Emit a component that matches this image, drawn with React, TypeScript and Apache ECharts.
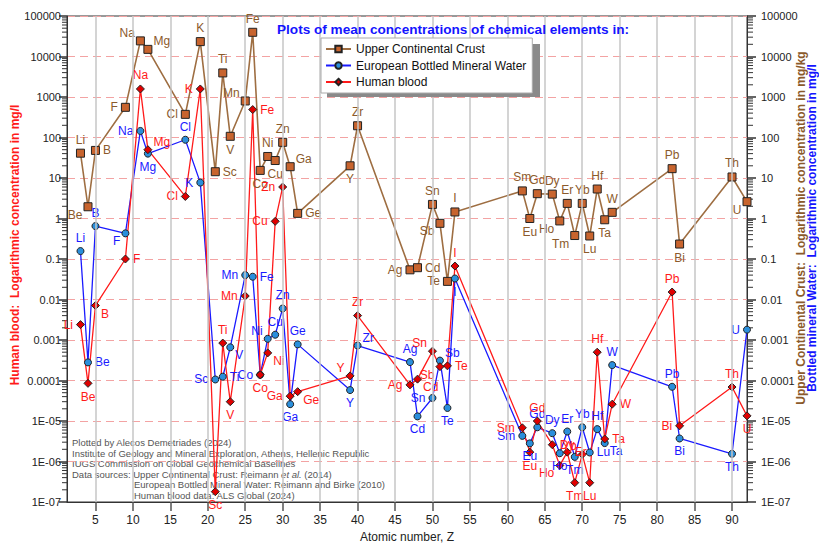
import { useEffect, useRef } from 'react';
import * as echarts from 'echarts';

const FONT = '"Liberation Sans", Arial, Helvetica, sans-serif';

// Atomic numbers (x positions)
const ATOMIC_NUMBER: Record<string, number> = {
  Li: 3, Be: 4, B: 5, F: 9, Na: 11, Mg: 12, Cl: 17, K: 19, Sc: 21, Ti: 22, V: 23, Mn: 25, Fe: 26,
  Co: 27, Ni: 28, Cu: 29, Zn: 30, Ga: 31, Ge: 32, Y: 39, Zr: 40, Ag: 47, Cd: 48, Sn: 50, Sb: 51,
  Te: 52, I: 53, Sm: 62, Eu: 63, Gd: 64, Dy: 66, Ho: 67, Er: 68, Tm: 69, Yb: 70, Lu: 71, Hf: 72,
  Ta: 73, W: 74, Pb: 82, Bi: 83, Th: 90, U: 92,
};

const elements = ['Li', 'Be', 'B', 'F', 'Na', 'Mg', 'Cl', 'K', 'Sc', 'Ti', 'V', 'Mn', 'Fe', 'Co', 'Ni', 'Cu', 'Zn', 'Ga', 'Ge', 'Y', 'Zr', 'Ag', 'Cd', 'Sn', 'Sb', 'Te', 'I', 'Sm', 'Eu', 'Gd', 'Dy', 'Ho', 'Er', 'Tm', 'Yb', 'Lu', 'Hf', 'Ta', 'W', 'Pb', 'Bi', 'Th', 'U'];

// Upper Continental Crust, mg/kg
const uccValues = [41, 1.95, 48, 556, 24300, 15000, 373, 23300, 14.3, 3930, 107, 798, 39600, 15.4, 34, 27, 76, 19, 1.34, 20, 195, 0.054, 0.061, 2.23, 0.76, 0.028, 1.45, 4.8, 1.0, 4.1, 4.0, 0.87, 2.36, 0.38, 2.36, 0.37, 5.35, 0.93, 1.42, 17, 0.234, 10.6, 2.6];

// European Bottled Mineral Water, mg/l
const waterValues = [0.157, 0.00028, 0.65, 0.43, 145, 40, 88, 7.7, 0.000106, 0.000124, 0.00066, 0.04, 0.0365, 0.000138, 0.00107, 0.00135, 0.006, 0.000026, 0.00078, 0.000058, 0.00073, 0.000285, 0.000013, 0.000037, 0.00031, 0.000021, 0.033, 0.0000043, 0.0000028, 0.000007, 0.000005, 0.0000016, 0.0000055, 0.0000013, 0.000007, 0.00000167, 0.0000063, 0.00000285, 0.00024, 0.00007, 0.0000037, 0.00000155, 0.0018];

// Human blood, mg/l
const bloodValues = [0.0024, 0.000085, 0.0071, 0.1, 1580, 50, 3.5, 1580, 0.00000018, 0.00084, 0.00003, 0.0122, 490, 0.000138, 0.00048, 0.85, 6.0, 0.000041, 0.000053, 0.00013, 0.004, 0.000078, 0.000108, 0.00053, 0.00022, 0.00023, 0.067, 0.0000068, 0.0000017, 0.00001, 0.0000026, 0.0000008, 0.0000017, 0.0000003, 0.0000015, 0.0000003, 0.0005, 0.0000036, 0.000026, 0.0153, 0.0000076, 0.000069, 0.0000134];

const xTicks = [5, 10, 15, 20, 25, 30, 35, 40, 45, 50, 55, 60, 65, 70, 75, 80, 85, 90];
const yExponents = [-7, -6, -5, -4, -3, -2, -1, 0, 1, 2, 3, 4, 5];

const X_MIN = 1.2;
const X_MAX = 92;

// label placement per element (style)
const uccLabelPos: Record<string, string> = {
  Li: 't', Be: 'bl', B: 'r', F: 'l', Na: 'tl', Mg: 'tr', Cl: 'l', K: 't', Sc: 'r', Ti: 't', V: 'b', Mn: 'tl', Fe: 't',
  Co: 'b', Ni: 't', Cu: 'b', Zn: 't', Ga: 'tr', Ge: 'r', Y: 'b', Zr: 't', Ag: 'l', Cd: 'r', Sn: 't', Sb: 'bl',
  Te: 'l', I: 't', Sm: 't', Eu: 'b', Gd: 't', Dy: 't', Ho: 'bl', Er: 't', Tm: 'bl', Yb: 't', Lu: 'b', Hf: 't',
  Ta: 'b', W: 't', Pb: 't', Bi: 'b', Th: 't', U: 'bl',
};
const waterLabelPos: Record<string, string> = {
  Li: 't', Be: 'r', B: 't', F: 'bl', Na: 'l', Mg: 'b', Cl: 't', K: 'l', Sc: 'l', Ti: 'r', V: 'br', Mn: 'l', Fe: 'r',
  Co: 'l', Ni: 'tl', Cu: 't', Zn: 't', Ga: 'b', Ge: 't', Y: 'b', Zr: 'tr', Ag: 't', Cd: 'b', Sn: 'l', Sb: 'tr',
  Te: 'b', I: 'b', Sm: 'l', Eu: 'b', Gd: 't', Dy: 't', Ho: 'b', Er: 't', Tm: 'b', Yb: 't', Lu: 'r', Hf: 't',
  Ta: 'br', W: 't', Pb: 't', Bi: 'b', Th: 'b', U: 'l',
};
const bloodLabelPos: Record<string, string> = {
  Li: 'l', Be: 'b', B: 'br', F: 'r', Na: 't', Mg: 'tr', Cl: 'l', K: 'l', Sc: 'b', Ti: 't', V: 'b', Mn: 'l', Fe: 'r',
  Co: 'b', Ni: 'br', Cu: 'l', Zn: 'l', Ga: 'l', Ge: 'br', Y: 'tl', Zr: 't', Ag: 'l', Cd: 'br', Sn: 'tl', Sb: 'bl',
  Te: 'r', I: 't', Sm: 'l', Eu: 'b', Gd: 't', Dy: 'r', Ho: 'bl', Er: 'r', Tm: 'b', Yb: 'tl', Lu: 'b', Hf: 't',
  Ta: 'r', W: 'r', Pb: 't', Bi: 'l', Th: 't', U: 'b',
};

const LABEL_POS: Record<string, any> = {
  t: { position: 'top', distance: 3 },
  b: { position: 'bottom', distance: 3 },
  l: { position: 'left', distance: 3 },
  r: { position: 'right', distance: 3 },
  tl: { position: 'left', distance: 1, offset: [0, -8] },
  tr: { position: 'right', distance: 1, offset: [0, -8] },
  bl: { position: 'left', distance: 1, offset: [0, 8] },
  br: { position: 'right', distance: 1, offset: [0, 8] },
};

function buildData(values: number[], pos: Record<string, string>) {
  return elements.map((el, i) => ({
    name: el,
    value: [ATOMIC_NUMBER[el], Math.log10(values[i])],
    label: LABEL_POS[pos[el]] || LABEL_POS.t,
  }));
}

function fmtExp(e: number): string {
  const k = Math.round(e);
  if (k >= 0) return String(Math.pow(10, k));
  if (k >= -4) return '0.' + '0'.repeat(-k - 1) + '1';
  return '1E-' + String(-k).padStart(2, '0');
}

export default function App() {
  const ref = useRef<HTMLDivElement>(null);

  useEffect(() => {
    document.body.style.margin = '0';
    if (!ref.current) return;
    const chart = echarts.init(ref.current, null, { renderer: 'svg' });

    const minorTicks: number[] = [];
    for (let e = -7; e < 5; e++) for (let m = 2; m <= 9; m++) minorTicks.push(e + Math.log10(m));

    const yAxisBase = (side: 'left' | 'right') => ({
      type: 'value',
      position: side,
      min: -7,
      max: 5,
      interval: 1,
      axisLine: { show: true, lineStyle: { color: '#333', width: 1 } },
      axisTick: { show: true, length: side === 'left' ? 8 : 9, lineStyle: { color: '#333', width: 1.5 } },
      axisLabel: {
        formatter: (v: number) => fmtExp(v),
        fontSize: 11,
        color: '#222',
        fontFamily: FONT,
        margin: side === 'left' ? 6 : 14,
        customValues: yExponents,
      },
      splitLine: side === 'left'
        ? { show: true, lineStyle: { type: [8, 5], color: '#f3a3a3', width: 1 } }
        : { show: false },
    });

    const option: any = {
      animation: false,
      textStyle: { fontFamily: FONT },
      grid: { left: 67, right: 72, top: 16, bottom: 41, show: true, borderColor: '#333', borderWidth: 1, outerBoundsMode: 'none', containLabel: false },
      title: {
        text: 'Plots of mean concentrations of chemical elements in:',
        left: 277,
        top: 22,
        padding: 0,
        textStyle: { color: '#1414ff', fontSize: 13.6, fontWeight: 'bold', fontFamily: FONT },
      },
      legend: {
        data: ['Upper Continental Crust', 'European Bottled Mineral Water', 'Human blood'],
        orient: 'vertical',
        left: 321,
        top: 38,
        padding: [4, 6, 4, 4],
        itemGap: 2.5,
        itemWidth: 25,
        itemHeight: 8,
        backgroundColor: '#fff',
        borderColor: '#aaa',
        borderWidth: 1,
        borderRadius: 0,
        textStyle: { fontSize: 12, color: '#111', fontFamily: FONT, lineHeight: 14 },
        z: 10,
      },
      xAxis: {
        type: 'value',
        min: X_MIN,
        max: X_MAX,
        name: 'Atomic number, Z',
        nameLocation: 'middle',
        nameGap: 24,
        nameTextStyle: { fontSize: 12, color: '#222', fontFamily: FONT },
        axisLine: { show: true, onZero: false, lineStyle: { color: '#333' } },
        axisTick: { show: true, length: 9, customValues: xTicks, lineStyle: { color: '#555', width: 1.5 } },
        axisLabel: { customValues: xTicks, fontSize: 12, color: '#222', margin: 12, fontFamily: FONT },
        splitLine: { show: false },
      },
      yAxis: [yAxisBase('left'), yAxisBase('right')],
      graphic: [
        { type: 'rect', z: 9, shape: { x: 327, y: 44, width: 213, height: 53 }, style: { fill: '#8a8a8a' } },
        {
          type: 'text', x: 15, y: 245, rotation: Math.PI / 2,
          style: { text: 'Human blood:  Logarithmic concentration in mg/l', fill: '#ff1a1a', font: `bold 12px ${FONT}`, align: 'center', verticalAlign: 'middle' },
        },
        {
          type: 'text', x: 801, y: 228, rotation: Math.PI / 2,
          style: { text: 'Upper Continental Crust:  Logarithmic concentration in mg/kg', fill: '#8b5a2b', font: `bold 12px ${FONT}`, align: 'center', verticalAlign: 'middle' },
        },
        {
          type: 'text', x: 812, y: 228, rotation: Math.PI / 2,
          style: { text: 'Bottled mineral Water:  Logarithmic concentration in mg/l', fill: '#1414ff', font: `bold 12px ${FONT}`, align: 'center', verticalAlign: 'middle' },
        },
        { type: 'text', x: 72, y: 442, style: { text: 'Plotted by Alecos Demetriades (2024)', fill: '#555', font: `9.5px ${FONT}`, verticalAlign: 'middle' } },
        { type: 'text', x: 72, y: 453, style: { text: 'Institute of Geology and Mineral Exploration, Athens, Hellenic Republic', fill: '#555', font: `9.5px ${FONT}`, verticalAlign: 'middle' } },
        { type: 'text', x: 72, y: 463.5, style: { text: 'IUGS Commission on Global Geochemical Baselines', fill: '#555', font: `9.5px ${FONT}`, verticalAlign: 'middle' } },
        {
          type: 'text', x: 72, y: 474,
          style: {
            text: 'Data sources: Upper Continental Crust: Reimann {i|et al.} (2014)',
            fill: '#555', font: `9.5px ${FONT}`, verticalAlign: 'middle',
            rich: { i: { fontStyle: 'italic', fontSize: 9.5, fill: '#555', fontFamily: FONT } },
          },
        },
        { type: 'text', x: 134, y: 484.5, style: { text: 'European Bottled Mineral Water: Reimann and Birke (2010)', fill: '#555', font: `9.5px ${FONT}`, verticalAlign: 'middle' } },
        { type: 'text', x: 134, y: 495, style: { text: 'Human blood data: ALS Global (2024)', fill: '#555', font: `9.5px ${FONT}`, verticalAlign: 'middle' } },
      ],
      series: [
        {
          name: 'vgrid',
          type: 'line',
          data: [],
          z: 1,
          silent: true,
          markLine: {
            silent: true,
            symbol: ['none', 'none'],
            label: { show: false },
            lineStyle: { color: '#c6c6c6', width: 1.5, type: 'solid' },
            data: xTicks.map((v) => ({ xAxis: v })),
          },
        },
        {
          name: 'minor',
          type: 'custom',
          silent: true,
          clip: false,
          z: 1,
          data: minorTicks.map((v) => [X_MIN, v]),
          renderItem: (params: any, api: any) => {
            const y = api.coord([X_MIN, api.value(1)])[1];
            const cs = params.coordSys;
            const xl = cs.x;
            const xr = cs.x + cs.width;
            return {
              type: 'group',
              children: [
                { type: 'line', shape: { x1: xl - 5, y1: y, x2: xl, y2: y }, style: { stroke: '#333', lineWidth: 1 } },
                { type: 'line', shape: { x1: xr, y1: y, x2: xr + 6, y2: y }, style: { stroke: '#333', lineWidth: 1 } },
              ],
            };
          },
        },
        {
          name: 'Upper Continental Crust',
          type: 'line',
          data: buildData(uccValues, uccLabelPos),
          symbol: 'rect',
          symbolSize: 8,
          z: 3,
          itemStyle: { color: '#c8642e', borderColor: '#222', borderWidth: 1 },
          lineStyle: { color: '#9e6e42', width: 1.6 },
          label: { show: true, formatter: '{b}', color: '#8b5a2b', fontSize: 12, fontFamily: FONT },
          emphasis: { disabled: true },
        },
        {
          name: 'European Bottled Mineral Water',
          type: 'line',
          data: buildData(waterValues, waterLabelPos),
          symbol: 'circle',
          symbolSize: 7,
          z: 3,
          itemStyle: { color: '#2a8fdc', borderColor: '#222', borderWidth: 1 },
          lineStyle: { color: '#1a1aff', width: 1.3 },
          label: { show: true, formatter: '{b}', color: '#1a1aff', fontSize: 12, fontFamily: FONT },
          emphasis: { disabled: true },
        },
        {
          name: 'Human blood',
          type: 'line',
          data: buildData(bloodValues, bloodLabelPos),
          symbol: 'diamond',
          symbolSize: 8,
          z: 3,
          itemStyle: { color: '#e00000', borderColor: '#222', borderWidth: 1 },
          lineStyle: { color: '#ff1a1a', width: 1.3 },
          label: { show: true, formatter: '{b}', color: '#ff1a1a', fontSize: 12, fontFamily: FONT },
          emphasis: { disabled: true },
        },
      ],
    };

    chart.setOption(option);
    return () => chart.dispose();
  }, []);

  return <div ref={ref} style={{ width: 819, height: 543 }} />;
}
